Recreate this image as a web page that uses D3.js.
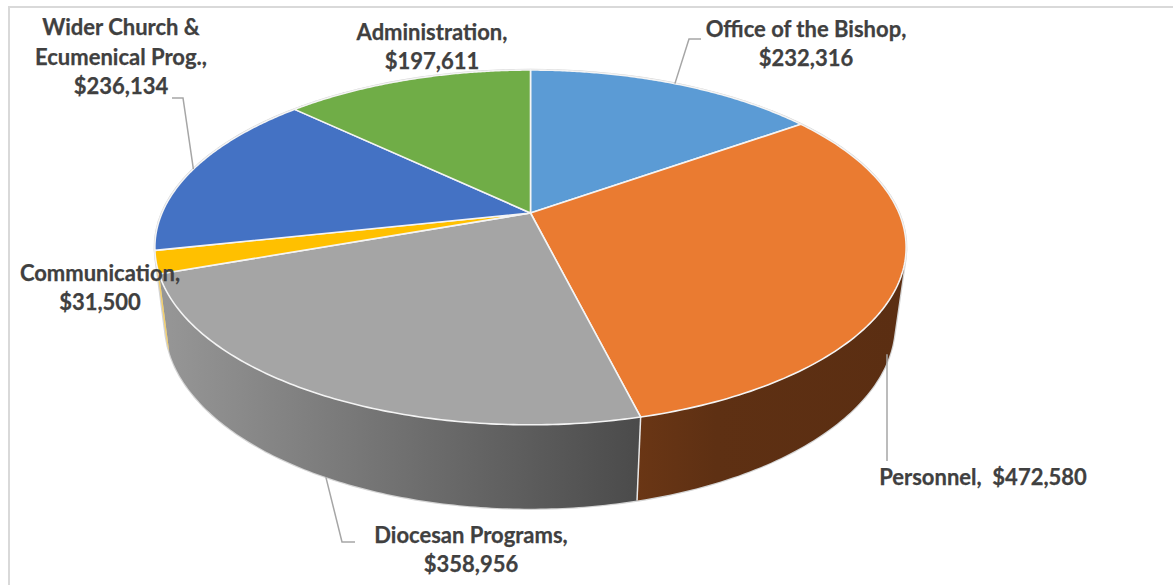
<!DOCTYPE html>
<html>
<head>
<meta charset="utf-8">
<title>Budget by program</title>
<script src="https://cdnjs.cloudflare.com/ajax/libs/d3/7.8.5/d3.min.js"></script>
<style>
  html, body { margin: 0; padding: 0; background: #fff; }
  svg { display: block; }
  text { font-family: Lato, "Open Sans", sans-serif; font-weight: 700; font-size: 22px; fill: #404040; stroke: #404040; stroke-width: 0.25px; white-space: pre; }
</style>
</head>
<body>
<svg id="chart" width="1173" height="585"></svg>
<script>
const categories = ["Office of the Bishop", "Personnel", "Diocesan Programs", "Communication", "Wider Church & Ecumenical Prog.", "Administration"];
const amounts = [232316, 472580, 358956, 31500, 236134, 197611];
const topColors = ["#5b9bd5", "#ea7b31", "#a5a5a5", "#ffc000", "#4472c4", "#70ad47"];
const wallColors = { 1: "url(#brownWall)", 2: "url(#grayWall)", 3: "#f6cf63" };

// Label lines with anchor x and baseline y.
const labelLines = [
  ["Office of the Bishop,", 806, 37], ["$232,316", 806, 66],
  ["Personnel,  $472,580", 983, 485],
  ["Diocesan Programs,", 471, 543], ["$358,956", 471, 572],
  ["Communication,", 100, 281], ["$31,500", 100, 310],
  ["Wider Church &", 121, 35], ["Ecumenical Prog.,", 121, 65], ["$236,134", 121, 94],
  ["Administration,", 432, 40], ["$197,611", 432, 69]
];
const leaders = [
  { slice: 0, rim: "top", via: [[689, 39], [701, 39]] },
  { slice: 1, rim: "bottom", via: [[887, 461]], alignX: true },
  { slice: 2, rim: "bottom", via: [[342, 542], [355, 542]] },
  { slice: 4, rim: "top", via: [[183, 98], [172, 98]] }
];

const svg = d3.select("#chart");

// Perspective view of the disc: a unit circle point maps through a homography,
// so the near edge opens wider than the far edge.
const persp = -0.194;
const topRim = { cx: 530.5, k: 368.5, a: 129.4, b: 213 };
const bottomRim = { cx: 530, k: 358, a: 122, b: 288 };
function project(rim, angle) {
  const u = Math.sin(angle), v = -Math.cos(angle);
  const d = 1 + persp * v;
  return [rim.cx + rim.k * u / d, (rim.a * v + rim.b) / d];
}

const slices = d3.pie().sort(null).value(d => d)(amounts);
const line = d3.line();
const arcPoints = (rim, a0, a1, n = 120) => d3.range(0, n + 1).map(i => project(rim, a0 + (a1 - a0) * i / n));

// The wall is a strip of small quads between matching points of both rims,
// which also gives the straight silhouette where the rims are tangent to it.
// Every quad is wound the same way so overlaps at the fold do not cancel out.
function wallPath(a0, a1) {
  const t = arcPoints(topRim, a0, a1), b = arcPoints(bottomRim, a0, a1);
  return d3.range(0, t.length - 1).map(i => {
    const quad = [t[i], t[i + 1], b[i + 1], b[i]];
    if (d3.polygonArea(quad) < 0) quad.reverse();
    return line(quad) + "Z";
  }).join("");
}

// Frame, open towards the right and bottom edges of the page.
svg.append("path").attr("d", "M9,585V7H1173").attr("fill", "none").attr("stroke", "#d9d9d9").attr("stroke-width", 2);

const defs = svg.append("defs");
const grad = (id, x1, x2, stops) => {
  const g = defs.append("linearGradient").attr("id", id).attr("gradientUnits", "userSpaceOnUse")
    .attr("x1", x1).attr("x2", x2).attr("y1", 0).attr("y2", 0);
  stops.forEach(([o, c]) => g.append("stop").attr("offset", o).attr("stop-color", c));
};
grad("grayWall", 165, 637, [[0, "#969696"], [1, "#4b4b4b"]]);
grad("brownWall", 637, 900, [[0, "#6a3615"], [0.3, "#5e3013"], [1, "#5b2e12"]]);

// Thin pale outline round the whole solid.
svg.append("path").attr("d", wallPath(0, 2 * Math.PI))
  .attr("fill", "#fff").attr("stroke", "#d4d4d4").attr("stroke-width", 2.5).attr("stroke-linejoin", "round");

// Side walls; the far slices have theirs hidden behind the top face.
const visibleWalls = slices.map((s, i) => ({ s, i })).filter(d => wallColors[d.i]);
svg.append("g").selectAll("path").data(visibleWalls).join("path")
  .attr("d", d => wallPath(d.s.startAngle, d.s.endAngle))
  .attr("fill", d => wallColors[d.i]);

// Seam where the gray and brown walls meet.
const seam = slices[1].endAngle;
svg.append("path").attr("d", line([project(topRim, seam), project(bottomRim, seam)]))
  .attr("stroke", "#e8e8e8").attr("stroke-width", 1.5).attr("fill", "none");

// Top faces.
svg.append("g").selectAll("path").data(slices).join("path")
  .attr("d", s => line([[topRim.cx, topRim.b]].concat(arcPoints(topRim, s.startAngle, s.endAngle))) + "Z")
  .attr("fill", (s, i) => topColors[i])
  .attr("stroke", "#f4f4f4").attr("stroke-width", 1.6).attr("stroke-linejoin", "round");

// Leader lines start from the middle of their slice's rim.
svg.append("g").selectAll("path").data(leaders).join("path")
  .attr("d", l => {
    const s = slices[l.slice];
    const start = project(l.rim === "top" ? topRim : bottomRim, (s.startAngle + s.endAngle) / 2);
    const pts = l.alignX ? [[l.via[0][0], start[1]], l.via[0]] : [start, ...l.via];
    return line(pts);
  })
  .attr("fill", "none").attr("stroke", "#a6a6a6").attr("stroke-width", 1.5);

svg.append("g").selectAll("text").data(labelLines).join("text")
  .attr("x", d => d[1]).attr("y", d => d[2]).attr("text-anchor", "middle").text(d => d[0]);
</script>
</body>
</html>
